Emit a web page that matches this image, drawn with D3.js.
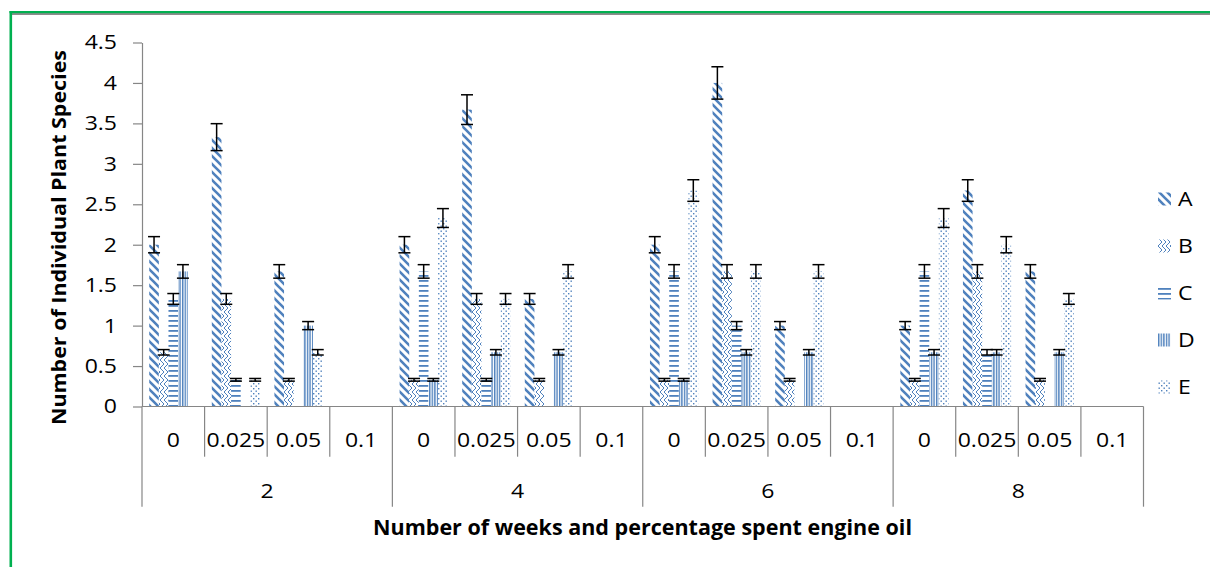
<!DOCTYPE html>
<html>
<head>
<meta charset="utf-8">
<script src="https://cdn.jsdelivr.net/npm/d3@7/dist/d3.min.js"></script>
<style>
  html, body { margin: 0; padding: 0; background: #ffffff; }
  svg { display: block; }
  text { font-family: "Open Sans", "Noto Sans", sans-serif; fill: #000; }
</style>
</head>
<body>
<svg id="chart" width="1210" height="567"></svg>
<script>
// Outer axis level: number of weeks; inner level: percentage of spent engine oil
const weeks = ["2", "4", "6", "8"];
const oilLevels = ["0", "0.025", "0.05", "0.1"];
const seriesNames = ["A", "B", "C", "D", "E"];

// Mean number of individual plants per species, one value per (week, oil level)
const valuesA = [2, 3.33, 1.67, 0,   2, 3.67, 1.33, 0,   2, 4, 1, 0,         1, 2.67, 1.67, 0];
const valuesB = [0.67, 1.33, 0.33, 0, 0.33, 1.33, 0.33, 0, 0.33, 1.67, 0.33, 0, 0.33, 1.67, 0.33, 0];
const valuesC = [1.33, 0.33, 0, 0,   1.67, 0.33, 0, 0,   1.67, 1, 0, 0,      1.67, 0.67, 0, 0];
const valuesD = [1.67, 0, 1, 0,      0.33, 0.67, 0.67, 0, 0.33, 0.67, 0.67, 0, 0.67, 0.67, 0.67, 0];
const valuesE = [0, 0.33, 0.67, 0,   2.33, 1.33, 1.67, 0, 2.67, 1.67, 1.67, 0, 2.33, 2, 1.33, 0];

// Error bars are a fixed percentage of each value
const errorPercent = 5;

const yTickValues = [0, 0.5, 1, 1.5, 2, 2.5, 3, 3.5, 4, 4.5];
const yTitle = "Number of Individual Plant Species";
const xTitle = "Number of weeks and percentage spent engine oil";

const seriesValues = [valuesA, valuesB, valuesC, valuesD, valuesE];

// ---- layout ----
const svg = d3.select("#chart");
const plot = { left: 142, right: 1143.5, top: 42.5, bottom: 406.5 };
const axisColor = "#868686";
const blue = "#4f81bd";
const labelSize = 20;
const labelStretch = 1.15;

// widen a label horizontally around its anchor
function stretch(sel) {
  sel.each(function () {
    const w = this.getComputedTextLength();
    if (w > 0) {
      d3.select(this)
        .attr("textLength", w * labelStretch)
        .attr("lengthAdjust", "spacingAndGlyphs");
    }
  });
}

const categories = [];
weeks.forEach(w => oilLevels.forEach(o => categories.push({ key: w + "|" + o, week: w, oil: o })));

const x = d3.scaleBand()
  .domain(categories.map(c => c.key))
  .range([plot.left, plot.right])
  .padding(0);

const xGroup = d3.scaleBand()
  .domain(weeks)
  .range([plot.left, plot.right])
  .padding(0);

const xSeries = d3.scaleBand()
  .domain(seriesNames)
  .range([0, x.bandwidth()])
  .paddingInner(0)
  .paddingOuter(0.75);

const y = d3.scaleLinear()
  .domain([0, 4.5])
  .range([plot.bottom, plot.top]);

// ---- pattern fills ----
const defs = svg.append("defs");

// A: wide downward diagonal
const pA = defs.append("pattern").attr("id", "pat-A")
  .attr("patternUnits", "userSpaceOnUse").attr("width", 8).attr("height", 8);
pA.append("rect").attr("width", 8).attr("height", 8).attr("fill", "#fff");
pA.append("path").attr("d", "M-2,-2 L10,10 M-2,6 L2,10 M6,-2 L10,2")
  .attr("stroke", blue).attr("stroke-width", 2.6);

// B: zig zag
const pB = defs.append("pattern").attr("id", "pat-B")
  .attr("patternUnits", "userSpaceOnUse").attr("width", 8).attr("height", 8);
pB.append("rect").attr("width", 8).attr("height", 8).attr("fill", "#fff");
pB.append("path").attr("d", "M0,0 L4,4 L0,8 M4,0 L8,4 L4,8")
  .attr("stroke", blue).attr("stroke-width", 1).attr("fill", "none");

// C: horizontal lines
const pC = defs.append("pattern").attr("id", "pat-C")
  .attr("patternUnits", "userSpaceOnUse").attr("width", 8).attr("height", 5);
pC.append("rect").attr("width", 8).attr("height", 5).attr("fill", "#fff");
pC.append("rect").attr("y", 0).attr("width", 8).attr("height", 1.8).attr("fill", blue);

// D: vertical lines
const pD = defs.append("pattern").attr("id", "pat-D")
  .attr("patternUnits", "userSpaceOnUse").attr("width", 2.6).attr("height", 8);
pD.append("rect").attr("width", 2.6).attr("height", 8).attr("fill", "#fff");
pD.append("rect").attr("x", 0).attr("width", 1.4).attr("height", 8).attr("fill", blue);

// E: sparse dots
const pE = defs.append("pattern").attr("id", "pat-E")
  .attr("patternUnits", "userSpaceOnUse").attr("width", 5).attr("height", 5);
pE.append("rect").attr("width", 5).attr("height", 5).attr("fill", "#fff");
pE.append("rect").attr("x", 0.5).attr("y", 0.5).attr("width", 1.4).attr("height", 1.4).attr("fill", blue);
pE.append("rect").attr("x", 3).attr("y", 3).attr("width", 1.4).attr("height", 1.4).attr("fill", blue);

// ---- frame ----
svg.append("rect").attr("x", 12).attr("y", 13).attr("width", 1198).attr("height", 2).attr("fill", "#8c8c8c");
svg.append("rect").attr("x", 9.5).attr("y", 11).attr("width", 1200.5).attr("height", 2.2).attr("fill", "#00b050");
svg.append("rect").attr("x", 9.5).attr("y", 11).attr("width", 2.6).attr("height", 556).attr("fill", "#00b050");

// ---- bars ----
const barData = [];
categories.forEach((c, i) => {
  seriesNames.forEach((s, j) => {
    barData.push({ cat: c.key, series: s, value: seriesValues[j][i] });
  });
});

const barsG = svg.append("g");
barsG.selectAll("rect")
  .data(barData.filter(d => d.value > 0))
  .join("rect")
  .attr("x", d => x(d.cat) + xSeries(d.series))
  .attr("y", d => y(d.value))
  .attr("width", xSeries.bandwidth())
  .attr("height", d => y(0) - y(d.value))
  .attr("fill", d => "url(#pat-" + d.series + ")");

// ---- y axis ----
const yAxis = d3.axisLeft(y)
  .tickValues(yTickValues)
  .tickFormat(d3.format("~g"))
  .tickSize(9)
  .tickSizeOuter(0)
  .tickPadding(16);

const yAxisG = svg.append("g")
  .attr("transform", `translate(${plot.left},0)`)
  .call(yAxis);
yAxisG.select(".domain").attr("stroke", axisColor).attr("stroke-width", 1.2);
yAxisG.selectAll(".tick line").attr("stroke", axisColor).attr("stroke-width", 1.2);
yAxisG.selectAll(".tick text")
  .attr("font-family", "Open Sans")
  .attr("font-size", labelSize)
  .attr("fill", "#000")
  .call(stretch);

// ---- x axis (two-level categories) ----
const xAxisG = svg.append("g");
xAxisG.append("line")
  .attr("x1", plot.left).attr("x2", plot.right)
  .attr("y1", y(0)).attr("y2", y(0))
  .attr("stroke", axisColor).attr("stroke-width", 1.2);

const innerTickEnd = 456.7;
const groupTickEnd = 506.7;

// boundaries between oil levels inside each week
xAxisG.selectAll("line.inner")
  .data(categories.filter(c => c.oil !== oilLevels[0]))
  .join("line")
  .attr("class", "inner")
  .attr("x1", d => x(d.key)).attr("x2", d => x(d.key))
  .attr("y1", y(0)).attr("y2", innerTickEnd)
  .attr("stroke", axisColor).attr("stroke-width", 1.2);

// boundaries between weeks
const groupEdges = weeks.map(w => xGroup(w)).concat([plot.right]);
xAxisG.selectAll("line.group")
  .data(groupEdges)
  .join("line")
  .attr("class", "group")
  .attr("x1", d => d).attr("x2", d => d)
  .attr("y1", y(0)).attr("y2", groupTickEnd)
  .attr("stroke", axisColor).attr("stroke-width", 1.2);

xAxisG.selectAll("text.cat")
  .data(categories)
  .join("text")
  .attr("class", "cat")
  .attr("x", d => x(d.key) + x.bandwidth() / 2)
  .attr("y", 447.2)
  .attr("text-anchor", "middle")
  .attr("font-size", labelSize)
  .text(d => d.oil)
  .call(stretch);

xAxisG.selectAll("text.week")
  .data(weeks)
  .join("text")
  .attr("class", "week")
  .attr("x", d => xGroup(d) + xGroup.bandwidth() / 2)
  .attr("y", 497.5)
  .attr("text-anchor", "middle")
  .attr("font-size", labelSize)
  .text(d => d)
  .call(stretch);

// ---- error bars ----
const errG = svg.append("g").attr("stroke", "#000").attr("stroke-width", 1.5).attr("fill", "none");
const capHalf = 6;
barData.filter(d => d.value > 0).forEach(d => {
  const cx = x(d.cat) + xSeries(d.series) + xSeries.bandwidth() / 2;
  const e = d.value * errorPercent / 100;
  const yHi = y(d.value + e), yLo = y(d.value - e);
  errG.append("line").attr("x1", cx).attr("x2", cx).attr("y1", yHi).attr("y2", yLo);
  errG.append("line").attr("x1", cx - capHalf).attr("x2", cx + capHalf).attr("y1", yHi).attr("y2", yHi);
  errG.append("line").attr("x1", cx - capHalf).attr("x2", cx + capHalf).attr("y1", yLo).attr("y2", yLo);
});

// ---- titles ----
svg.append("text")
  .attr("x", 642.5).attr("y", 534.5)
  .attr("text-anchor", "middle")
  .attr("font-size", 21)
  .attr("font-weight", "bold")
  .attr("textLength", 539)
  .attr("lengthAdjust", "spacingAndGlyphs")
  .text(xTitle);

svg.append("text")
  .attr("transform", "translate(66,237.5) rotate(-90)")
  .attr("text-anchor", "middle")
  .attr("font-size", 20)
  .attr("font-weight", "bold")
  .attr("textLength", 375)
  .attr("lengthAdjust", "spacingAndGlyphs")
  .text(yTitle);

// ---- legend ----
const legend = svg.append("g");
const legendItems = legend.selectAll("g")
  .data(seriesNames)
  .join("g")
  .attr("transform", (d, i) => `translate(1158,${199 + i * 47})`);
legendItems.append("rect")
  .attr("x", 0).attr("y", -6.5)
  .attr("width", 13).attr("height", 13)
  .attr("fill", d => "url(#pat-" + d + ")");
legendItems.append("text")
  .attr("x", 20).attr("y", 7.3)
  .attr("font-size", labelSize)
  .text(d => d)
  .call(stretch);
</script>
</body>
</html>
